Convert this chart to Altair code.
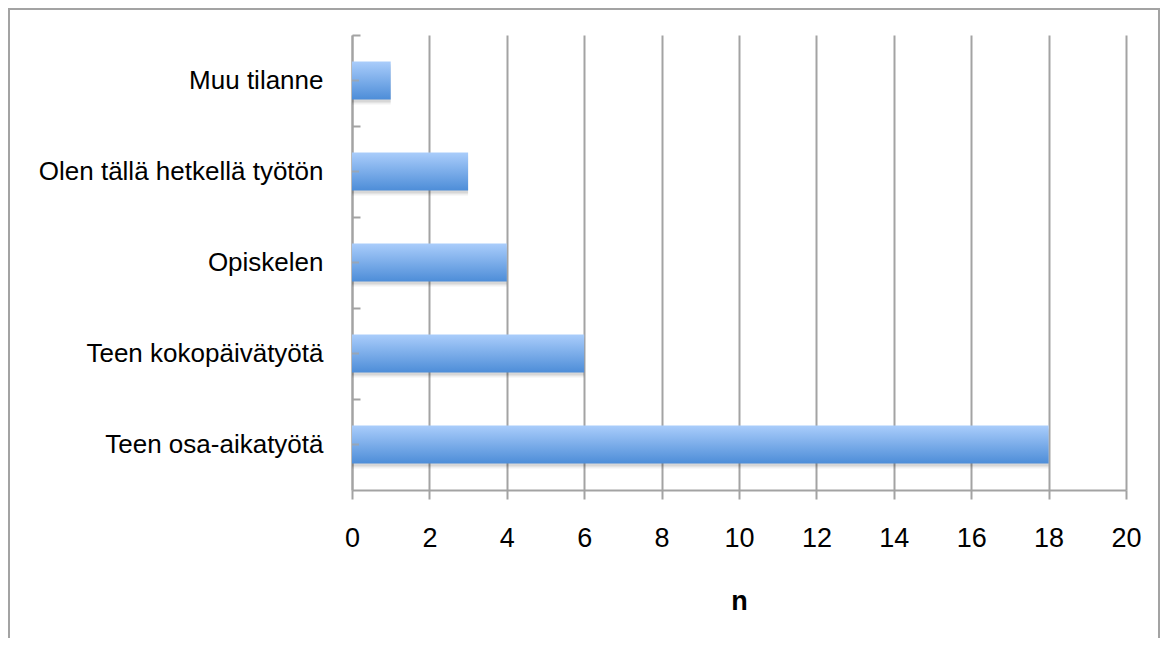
import altair as alt
import pandas as pd

categories = ["Muu tilanne", "Olen tällä hetkellä työtön", "Opiskelen",
              "Teen kokopäivätyötä", "Teen osa-aikatyötä"]
values = [1, 3, 4, 6, 18]
x_ticks = [0, 2, 4, 6, 8, 10, 12, 14, 16, 18, 20]

df = pd.DataFrame({"cat": categories, "n": values})

FONT = "Liberation Sans"
GRAY = "#A3A3A3"
W, H = 774, 455

grad = alt.Gradient(
    gradient="linear",
    stops=[alt.GradientStop(color="#AACDFB", offset=0),
           alt.GradientStop(color="#4D8DD8", offset=1)],
    x1=0, x2=0, y1=0, y2=1,
)

yscale = alt.Scale(domain=categories, paddingInner=0, paddingOuter=0)
xscale = alt.Scale(domain=[0, 20], nice=False)

xaxis = alt.Axis(
    values=x_ticks, grid=True, gridColor=GRAY, gridWidth=2,
    ticks=True, tickSize=9, tickColor=GRAY, tickWidth=2,
    domain=True, domainColor=GRAY, domainWidth=2,
    labelFont=FONT, labelFontSize=27, labelColor="#000000", labelPadding=26,
    labelFlush=False,
    title="n", titleFont=FONT, titleFontSize=27, titleFontWeight="bold",
    titleColor="#000000", titleBaseline="alphabetic", titleY=119, titleX=W / 2,
)

base = alt.Chart(df)

frame = alt.Chart(pd.DataFrame({"a": [0]})).mark_rect(
    filled=False, stroke=GRAY, strokeWidth=2
).encode(
    x=alt.value(-343), x2=alt.value(W + 33),
    y=alt.value(-26), y2=alt.value(H + 200),
)

shadow1 = base.mark_bar(height={"band": 0.42}, color="#000000", opacity=0.10,
                        yOffset=3, x2Offset=3).encode(
    x=alt.X("n:Q", scale=xscale, axis=xaxis),
    y=alt.Y("cat:N", scale=yscale, sort=categories, axis=None),
)
shadow2 = base.mark_bar(height={"band": 0.42}, color="#000000", opacity=0.06,
                        yOffset=5, x2Offset=5).encode(
    x=alt.X("n:Q", scale=xscale, axis=xaxis),
    y=alt.Y("cat:N", scale=yscale, sort=categories, axis=None),
)

bars = base.mark_bar(height={"band": 0.42}, color=grad).encode(
    x=alt.X("n:Q", scale=xscale, axis=xaxis),
    y=alt.Y("cat:N", scale=yscale, sort=categories, axis=alt.Axis(
        orient="left", title=None, ticks=False, grid=False,
        domain=True, domainColor=GRAY, domainWidth=2,
        labelFont=FONT, labelFontSize=26, labelColor="#000000",
        labelPadding=29, labelLimit=500,
        labelExpr="datum.value == 'Muu tilanne' ? datum.value + '\u00a0' : datum.value",
    )),
)

ticks = base.mark_tick(color=GRAY, thickness=2, size=7, orient="horizontal").encode(
    x=alt.value(3.5),
    y=alt.Y("cat:N", scale=yscale, sort=categories, axis=alt.Axis(
        orient="right", offset=-W, bandPosition=0, title=None,
        labels=False, domain=False, grid=False,
        ticks=True, tickSize=8, tickColor=GRAY, tickWidth=2,
    )),
)

chart = alt.layer(frame, shadow2, shadow1, bars, ticks).properties(
    width=W, height=H,
    autosize=alt.AutoSizeParams(type="none"),
    padding={"left": 344, "top": 27, "right": 34, "bottom": 148},
    background="white",
).configure_view(stroke=None)

chart.save("out.html", embed_options={"renderer": "svg", "actions": False})
